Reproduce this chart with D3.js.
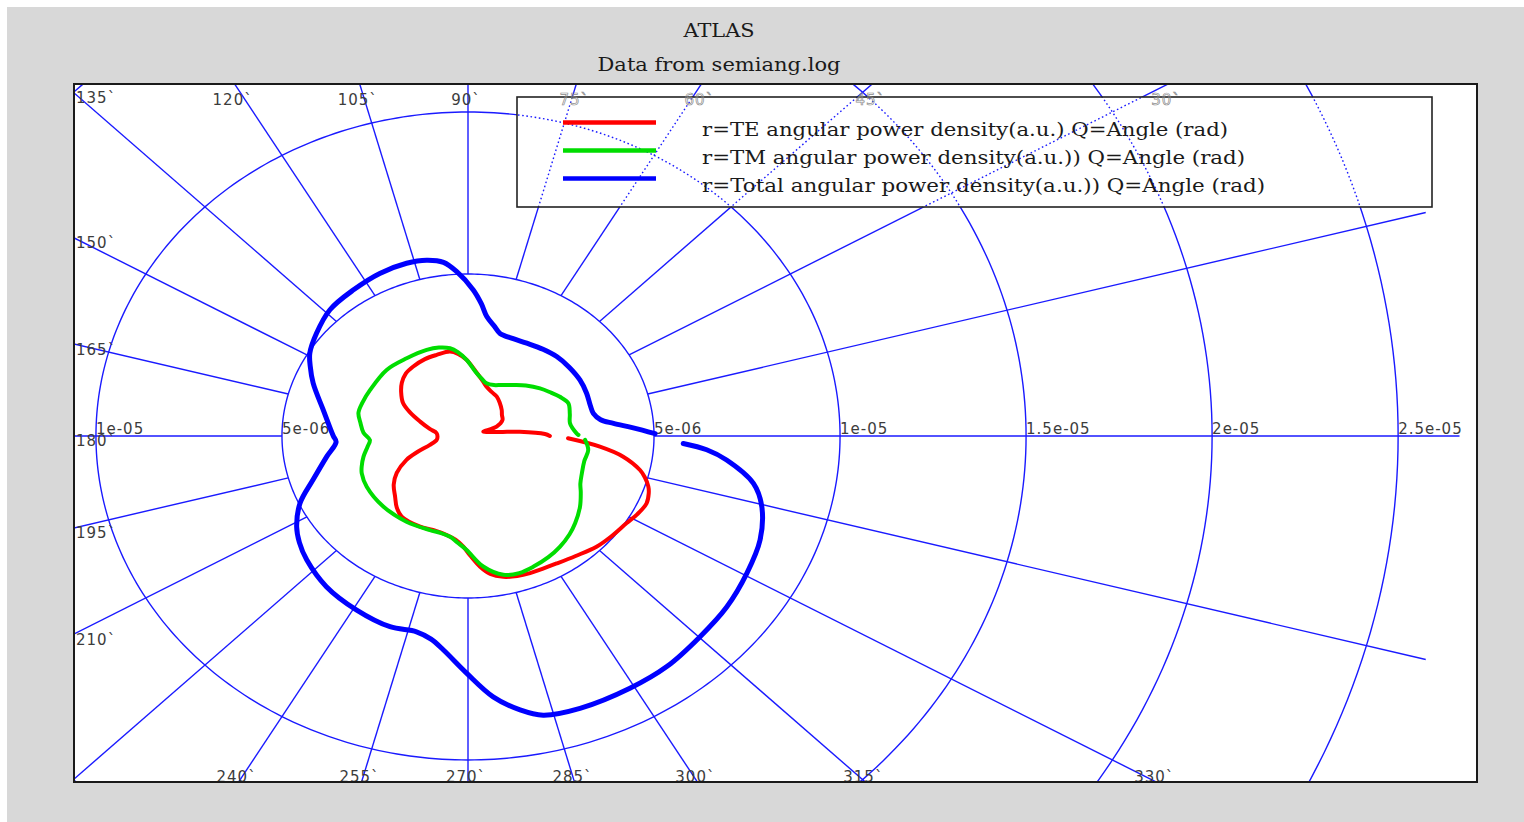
<!DOCTYPE html>
<html>
<head>
<meta charset="utf-8">
<script src="https://cdn.jsdelivr.net/npm/d3@7"></script>
<style>
  body { margin: 0; background: #ffffff; }
  svg { display: block; }
</style>
</head>
<body>
<svg id="chart" width="1524" height="822"></svg>
<script>
// ---- data: angle in degrees, r in units of 1e-6 (a.u.) ----
const teAngle = [0, 1.7, 5.4, 8, 12, 17.6, 20.5, 28, 35.5, 41.5, 50, 57.5, 65, 71.8, 77, 83, 90.9, 96, 100.6, 108.6, 116, 124.7, 131, 137.3, 143, 149.8, 155, 161, 168, 174, 181, 188, 195, 200, 204, 210.8, 217, 223.7, 229, 234.4, 245.3, 252, 259.4, 264, 267.9, 271, 274.6, 278, 282.3, 287, 291.5, 296, 301.2, 308, 315.3, 321, 327.8, 332, 336.6, 340, 342.2, 345, 347.2, 351.3, 354.7, 358.5];
const teR     = [2.20, 2.07, 1.40, 0.87, 0.60, 0.43, 0.82, 1.05, 1.12, 1.21, 1.33, 1.44, 1.50, 1.60, 1.75, 1.96, 2.35, 2.55, 2.65, 2.64, 2.64, 2.60, 2.55, 2.42, 2.25, 2.02, 1.72, 1.36, 1.05, 0.85, 0.82, 0.85, 1.06, 1.45, 1.81, 2.23, 2.50, 2.71, 2.92, 3.06, 3.08, 3.05, 3.11, 3.22, 3.42, 3.70, 4.05, 4.30, 4.45, 4.52, 4.55, 4.56, 4.60, 4.70, 4.86, 4.94, 5.04, 5.15, 5.23, 5.17, 5.09, 4.92, 4.74, 4.22, 3.56, 2.69];

const tmAngle = [0.6, 1.6, 8.1, 14, 20.5, 26.1, 31, 37.2, 45, 52.2, 60, 66, 72.9, 78, 83.1, 90.9, 96, 100.1, 106, 112.7, 124.5, 137, 151.6, 160, 166.4, 172, 178, 182.7, 187, 192.8, 198.3, 202, 209.9, 223.7, 238, 250.6, 256, 261.2, 265, 269.4, 275.8, 282.5, 288, 293.6, 300, 305.8, 312, 317, 324, 330, 334, 339.4, 346, 352.4, 357.8];
const tmR     = [2.97, 2.92, 2.77, 2.82, 2.88, 2.75, 2.60, 2.43, 2.20, 1.99, 1.82, 1.72, 1.70, 1.80, 1.95, 2.35, 2.60, 2.75, 2.84, 2.88, 2.91, 2.99, 2.99, 3.02, 3.03, 2.92, 2.81, 2.64, 2.72, 2.88, 3.01, 3.08, 3.14, 3.15, 3.12, 3.08, 3.08, 3.15, 3.30, 3.52, 4.05, 4.39, 4.45, 4.40, 4.32, 4.22, 4.08, 3.94, 3.72, 3.50, 3.36, 3.27, 3.22, 3.26, 3.15];

const totAngle = [0.8, 3.2, 5.7, 8, 11.7, 16, 22.5, 29.9, 38, 45.8, 53, 61.1, 68, 74.8, 78, 82.2, 85, 88.2, 93.4, 97, 101.6, 107.2, 115.3, 124.3, 133.6, 142.1, 149, 153, 158.6, 168.4, 176, 180, 183, 189.5, 198, 204.7, 211.3, 216, 221.4, 230.7, 240.9, 250.4, 257.1, 261, 264.3, 269.7, 274.8, 279.4, 283.2, 289.7, 299.2, 306.9, 315.2, 322.8, 330.5, 337.8, 344.6, 349.2, 353.9, 356.2, 357.7];
const totR     = [5.03, 4.45, 3.93, 3.60, 3.44, 3.42, 3.45, 3.47, 3.45, 3.42, 3.35, 3.27, 3.24, 3.28, 3.45, 3.72, 4.10, 4.51, 5.08, 5.40, 5.54, 5.58, 5.55, 5.46, 5.38, 5.16, 4.96, 4.76, 4.47, 3.97, 3.72, 3.62, 3.55, 3.85, 4.38, 4.97, 5.39, 5.60, 5.78, 6.01, 6.15, 6.25, 6.20, 6.35, 6.64, 7.32, 8.08, 8.57, 8.85, 8.93, 8.92, 8.90, 8.79, 8.73, 8.61, 8.48, 8.19, 7.81, 6.99, 6.43, 5.79];

const seriesLabels = [
  "r=TE angular power density(a.u.) Q=Angle (rad)",
  "r=TM angular power density(a.u.)) Q=Angle (rad)",
  "r=Total angular power density(a.u.)) Q=Angle (rad)"
];

const radialTicks = [5, 10, 15, 20, 25];
const radialTickLabels = ["5e-06", "1e-05", "1.5e-05", "2e-05", "2.5e-05"];
const angleTicks = [0, 15, 30, 45, 60, 75, 90, 105, 120, 135, 150, 165, 180, 195, 210, 225, 240, 255, 270, 285, 300, 315, 330, 345];
const rMax = 26.65;

const titleText = "ATLAS";
const subtitleText = "Data from semiang.log";

// ---- layout ----
const W = 1524, H = 822;
const frame = { left: 74, right: 1477, top: 84, bottom: 782 };
const legendBox = { x: 517, y: 97, w: 915, h: 110 };

const svg = d3.select("#chart");

// plot scales (the x and y units differ in pixel size, so circles become ellipses)
const x = d3.scaleLinear().domain([-10.59, 27.12]).range([frame.left, frame.right]);
const y = d3.scaleLinear().domain([-10.68, 10.864]).range([frame.bottom, frame.top]);

const rad = d => d * Math.PI / 180;
const px = (deg, r) => x(r * Math.cos(rad(deg)));
const py = (deg, r) => y(r * Math.sin(rad(deg)));

// background
svg.append("rect").attr("width", W).attr("height", H).attr("fill", "#ffffff");
svg.append("rect").attr("x", 7).attr("y", 7).attr("width", W - 7).attr("height", H - 7).attr("fill", "#d8d8d8");
svg.append("rect")
  .attr("x", frame.left).attr("y", frame.top)
  .attr("width", frame.right - frame.left).attr("height", frame.bottom - frame.top)
  .attr("fill", "#ffffff");

const defs = svg.append("defs");
defs.append("clipPath").attr("id", "frameClip").append("rect")
  .attr("x", frame.left).attr("y", frame.top)
  .attr("width", frame.right - frame.left).attr("height", frame.bottom - frame.top);
defs.append("clipPath").attr("id", "legendClip").append("rect")
  .attr("x", legendBox.x).attr("y", legendBox.y)
  .attr("width", legendBox.w).attr("height", legendBox.h);

// titles
const serif = "DejaVu Serif";
svg.append("text").attr("x", 719).attr("y", 37).attr("text-anchor", "middle")
  .attr("font-family", serif).attr("font-size", 18.5).attr("fill", "#1a1a1a")
  .attr("textLength", 71).attr("lengthAdjust", "spacingAndGlyphs")
  .text(titleText);
svg.append("text").attr("x", 719).attr("y", 71).attr("text-anchor", "middle")
  .attr("font-family", serif).attr("font-size", 18.5).attr("fill", "#1a1a1a")
  .attr("textLength", 243).attr("lengthAdjust", "spacingAndGlyphs")
  .text(subtitleText);

// polar grid
const ellipsePts = r => d3.range(0, 361, 1).map(a => [px(a, r), py(a, r)]);
const gridLine = d3.line();
const gridColor = "#1a1aff";

function drawGrid(g, dashed) {
  radialTicks.forEach(r => {
    g.append("path").attr("d", gridLine(ellipsePts(r)))
      .attr("fill", "none").attr("stroke", gridColor).attr("stroke-width", 1.4)
      .attr("stroke-dasharray", dashed ? "1.6,2.6" : null);
  });
  angleTicks.forEach(a => {
    g.append("line")
      .attr("x1", px(a, radialTicks[0])).attr("y1", py(a, radialTicks[0]))
      .attr("x2", px(a, rMax)).attr("y2", py(a, rMax))
      .attr("stroke", gridColor).attr("stroke-width", 1.4)
      .attr("stroke-dasharray", dashed ? "1.6,2.6" : null);
  });
}

const gridG = svg.append("g").attr("clip-path", "url(#frameClip)");
drawGrid(gridG, false);

// radial tick labels along the 0/180 axis
const tickFont = { family: "DejaVu Sans", size: 15, fill: "#3c3c3c" };
const radialLabelG = svg.append("g").attr("clip-path", "url(#frameClip)");
radialTicks.forEach((r, i) => {
  [1, -1].forEach(sgn => {
    const xx = x(sgn * r);
    if (xx < frame.left - 1 || xx > frame.right) return;
    radialLabelG.append("text").attr("x", xx).attr("y", 434)
      .attr("font-family", tickFont.family).attr("font-size", tickFont.size)
      .attr("letter-spacing", 1).attr("fill", tickFont.fill)
      .text(radialTickLabels[i]);
  });
});

// angular tick labels where each spoke meets the frame
const [xMin, xMax] = x.domain();
const [yMin, yMax] = y.domain();
const angleLabels = [];
angleTicks.forEach(a => {
  const c = Math.cos(rad(a)), s = Math.sin(rad(a));
  let best = Infinity, edge = null;
  if (c > 1e-6) { const t = xMax / c; if (t < best) { best = t; edge = "right"; } }
  if (c < -1e-6) { const t = xMin / c; if (t < best) { best = t; edge = "left"; } }
  if (s > 1e-6) { const t = yMax / s; if (t < best) { best = t; edge = "top"; } }
  if (s < -1e-6) { const t = yMin / s; if (t < best) { best = t; edge = "bottom"; } }
  if (best > rMax) return;
  const hx = px(a, best), hy = py(a, best);
  let lx, ly, anchor;
  if (edge === "top") { lx = hx - 2; ly = frame.top + 16; anchor = "middle"; }
  else if (edge === "bottom") { lx = hx - 2; ly = frame.bottom - 5; anchor = "middle"; }
  else if (edge === "left") {
    if (hy > frame.bottom - 10) return;
    lx = frame.left + 2; ly = hy + 6; anchor = "start";
  } else return;
  const ghost = edge === "top" && lx > legendBox.x && lx < legendBox.x + legendBox.w;
  angleLabels.push({ a, lx, ly, anchor, ghost });
});

const angleLabelG = svg.append("g").attr("clip-path", "url(#frameClip)");
angleLabels.filter(d => !d.ghost).forEach(d => {
  angleLabelG.append("text").attr("x", d.lx).attr("y", d.ly)
    .attr("text-anchor", d.anchor).attr("dominant-baseline", "middle")
    .attr("font-family", tickFont.family).attr("font-size", tickFont.size)
    .attr("letter-spacing", 1).attr("fill", tickFont.fill)
    .text(d.a + "`");
});

// data curves
const curve = d3.line()
  .x(d => px(d[0], d[1]))
  .y(d => py(d[0], d[1]))
  .curve(d3.curveCatmullRom.alpha(0.5));

const curvesG = svg.append("g").attr("clip-path", "url(#frameClip)");
const series = [
  { angle: teAngle, r: teR, color: "#ff0000", width: 4 },
  { angle: tmAngle, r: tmR, color: "#00dd00", width: 4 },
  { angle: totAngle, r: totR, color: "#0000ff", width: 5 }
];
series.forEach(s => {
  curvesG.append("path")
    .attr("d", curve(d3.zip(s.angle, s.r)))
    .attr("fill", "none").attr("stroke", s.color)
    .attr("stroke-width", s.width).attr("stroke-linejoin", "round").attr("stroke-linecap", "round");
});

// legend
svg.append("rect").attr("x", legendBox.x).attr("y", legendBox.y)
  .attr("width", legendBox.w).attr("height", legendBox.h)
  .attr("fill", "#ffffff");
const legendGridG = svg.append("g").attr("clip-path", "url(#legendClip)");
drawGrid(legendGridG, true);
svg.append("rect").attr("x", legendBox.x).attr("y", legendBox.y)
  .attr("width", legendBox.w).attr("height", legendBox.h)
  .attr("fill", "none").attr("stroke", "#222").attr("stroke-width", 1.6);

// spoke labels that fall over the legend are drawn as faint outlines
angleLabels.filter(d => d.ghost).forEach(d => {
  svg.append("text").attr("x", d.lx).attr("y", d.ly)
    .attr("text-anchor", d.anchor).attr("dominant-baseline", "middle")
    .attr("font-family", tickFont.family).attr("font-size", tickFont.size)
    .attr("letter-spacing", 1).attr("fill", "none")
    .attr("stroke", "#8a8a8a").attr("stroke-width", 0.7)
    .text(d.a + "`");
});

const legendTextWidths = [526, 543, 563];
series.forEach((s, i) => {
  const yy = 122.5 + i * 28;
  svg.append("line").attr("x1", 563).attr("x2", 656).attr("y1", yy).attr("y2", yy)
    .attr("stroke", s.color).attr("stroke-width", 4.5);
  svg.append("text").attr("x", 702).attr("y", yy + 13)
    .attr("font-family", serif).attr("font-size", 19).attr("fill", "#1a1a1a")
    .attr("textLength", legendTextWidths[i]).attr("lengthAdjust", "spacingAndGlyphs")
    .text(seriesLabels[i]);
});

// frame
svg.append("rect")
  .attr("x", frame.left).attr("y", frame.top)
  .attr("width", frame.right - frame.left).attr("height", frame.bottom - frame.top)
  .attr("fill", "none").attr("stroke", "#1a1a1a").attr("stroke-width", 2);
</script>
</body>
</html>
